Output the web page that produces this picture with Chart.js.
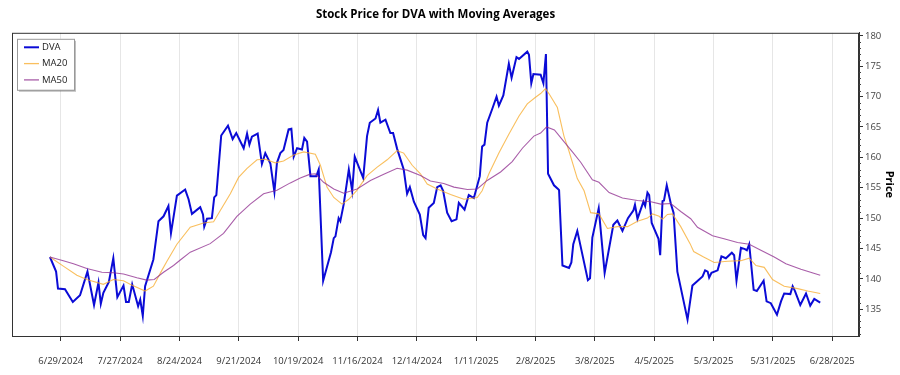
<!DOCTYPE html>
<html>
<head>
<meta charset="utf-8">
<script src="https://cdn.jsdelivr.net/npm/chart.js@4.4.1/dist/chart.umd.min.js"></script>
<style>
    html, body { margin: 0; padding: 0; background: #fff; }
</style>
</head>
<body>
<canvas id="stockChart" width="900" height="375"></canvas>
<script>
// x values are days counted from 6/29/2024 (first date tick)
const tickDays = [0, 28, 56, 84, 112, 140, 168, 196, 224, 252, 280, 308, 336, 364];
const tickLabels = ['6/29/2024', '7/27/2024', '8/24/2024', '9/21/2024', '10/19/2024', '11/16/2024',
    '12/14/2024', '1/11/2025', '2/8/2025', '3/8/2025', '4/5/2025', '5/3/2025', '5/31/2025', '6/28/2025'];
const priceTicks = [135, 140, 145, 150, 155, 160, 165, 170, 175, 180];

// DVA closing price
const dvaDays = [-5.1, -2.2, -1.3, 2.0, 5.7, 9.1, 12.6, 15.7, 17.8, 18.9,
    20.1, 22.7, 24.8, 26.7, 29.6, 30.8, 32.1, 33.7, 36.5, 37.5,
    38.7, 39.8, 43.7, 46.1, 48.5, 50.8, 52.0, 54.8, 58.7, 60.3,
    61.9, 65.8, 67.1, 67.7, 69.0, 71.3, 72.4, 73.4, 75.7, 78.9,
    81.1, 82.8, 86.3, 87.9, 89.0, 90.2, 92.9, 94.9, 96.5, 98.9,
    100.8, 102.0, 103.6, 105.1, 107.5, 108.8, 109.9, 111.5, 113.8, 114.9,
    116.2, 117.8, 120.6, 121.7, 123.8, 125.3, 127.5, 128.8, 129.6, 131.1,
    131.9, 133.5, 135.9, 137.5, 138.7, 142.7, 144.5, 145.8, 148.5, 149.7,
    150.8, 153.2, 155.5, 156.8, 158.7, 161.8, 163.4, 164.7, 166.6, 169.4,
    171.0, 172.1, 173.6, 176.0, 177.6, 179.2, 180.4, 182.3, 184.4, 186.7,
    187.8, 190.5, 192.5, 194.9, 197.7, 198.8, 199.9, 201.2, 203.6, 205.6,
    206.7, 208.8, 211.4, 212.7, 215.0, 216.2, 220.1, 220.9, 222.0, 223.0,
    226.4, 227.7, 228.9, 229.9, 232.7, 234.6, 235.1, 236.7, 239.8, 240.9,
    241.8, 243.7, 248.7, 249.7, 250.8, 253.8, 256.6, 260.7, 262.6, 265.0,
    267.6, 270.2, 270.9, 272.1, 274.9, 275.7, 276.8, 277.6, 278.8, 282.0,
    282.8, 283.9, 284.6, 285.9, 287.8, 289.1, 290.9, 295.7, 298.0, 299.6,
    302.8, 304.0, 305.2, 305.9, 307.0, 309.9, 311.7, 313.8, 316.6, 317.7,
    318.8, 320.9, 322.8, 323.7, 324.8, 326.9, 328.4, 331.6, 333.0, 335.0,
    337.9, 339.8, 341.3, 344.2, 345.3, 346.4, 348.9, 351.6, 353.6, 355.5,
    358.3];
const dvaPrices = [143.6, 141.2, 138.4, 138.3, 136.2, 137.3, 141.2, 135.7, 139.4, 135.9,
    137.7, 139.5, 143.4, 137.0, 138.9, 136.2, 136.2, 139.1, 135.5, 136.6,
    133.9, 138.8, 143.2, 149.5, 150.3, 152.0, 147.5, 153.7, 154.7, 153.1,
    150.7, 151.8, 150.6, 148.6, 149.9, 150.0, 153.4, 153.8, 163.6, 165.2,
    163.0, 164.0, 161.5, 163.9, 162.1, 163.4, 163.9, 158.9, 160.7, 159.0,
    154.3, 159.1, 160.7, 161.2, 164.6, 164.7, 160.1, 161.5, 161.3, 163.2,
    162.6, 156.9, 156.9, 158.0, 139.7, 141.6, 144.4, 146.7, 147.0, 150.0,
    149.5, 152.3, 158.0, 154.5, 160.1, 156.6, 163.5, 165.7, 166.4, 167.8,
    165.7, 166.2, 164.0, 164.0, 161.4, 158.0, 154.0, 155.1, 152.7, 150.6,
    147.2, 146.7, 151.7, 152.5, 155.1, 155.4, 154.5, 150.9, 149.5, 149.8,
    152.5, 151.4, 153.8, 153.3, 156.9, 161.8, 162.1, 165.7, 168.0, 170.0,
    168.5, 170.2, 175.4, 173.1, 176.5, 176.2, 177.4, 176.9, 172.2, 173.7,
    173.6, 172.2, 177.0, 157.3, 155.4, 154.8, 154.6, 142.2, 141.8, 142.7,
    145.7, 147.9, 139.8, 140.1, 146.8, 151.6, 141.0, 148.9, 149.6, 147.9,
    150.0, 151.3, 152.2, 149.9, 152.7, 152.0, 154.2, 153.8, 149.2, 146.6,
    143.9, 152.8, 152.9, 155.4, 152.4, 150.9, 141.2, 133.3, 138.9, 139.4,
    140.4, 141.4, 141.2, 140.2, 141.0, 141.4, 143.7, 143.4, 144.3, 143.9,
    139.7, 145.1, 144.9, 144.7, 145.7, 138.2, 138.0, 139.7, 136.3, 136.0,
    134.1, 136.3, 137.6, 137.5, 138.8, 138.0, 135.7, 137.6, 135.6, 136.7,
    136.1];

// 20 day moving average
const ma20Days = [-5.1, 1.2, 7.6, 12.3, 20.1, 24.8, 29.6, 32.7, 39.8, 43.7,
    47.7, 50.1, 54.8, 61.1, 67.4, 72.1, 75.2, 80.0, 83.9, 87.9,
    92.6, 96.5, 101.2, 105.1, 109.9, 114.6, 120.1, 122.5, 125.6, 128.8,
    132.7, 135.9, 139.8, 144.5, 149.3, 154.0, 158.7, 161.8, 165.8, 169.7,
    172.9, 177.6, 183.9, 190.2, 196.5, 198.8, 202.0, 206.7, 211.4, 216.2,
    220.1, 224.0, 226.4, 228.7, 230.3, 234.3, 237.4, 239.8, 243.7, 246.9,
    250.0, 253.9, 257.9, 262.6, 267.4, 272.1, 276.8, 279.2, 282.3, 283.9,
    286.2, 288.6, 292.5, 296.9, 298.6, 303.3, 308.3, 314.6, 320.9, 324.8,
    328.0, 331.9, 335.8, 341.3, 347.7, 352.4, 358.3];
const ma20Values = [143.6, 142.1, 140.6, 139.9, 139.1, 139.9, 139.7, 139.1, 138.0, 138.8,
    141.4, 142.9, 145.7, 148.5, 149.2, 149.4, 151.2, 154.0, 156.7, 158.2,
    159.6, 159.7, 159.1, 159.4, 160.4, 160.9, 160.5, 158.7, 155.1, 153.4,
    152.3, 153.1, 154.6, 157.0, 158.4, 159.6, 161.1, 160.7, 158.7, 157.3,
    155.6, 154.8, 153.9, 153.1, 153.4, 154.5, 157.3, 160.7, 163.8, 166.8,
    168.8, 169.9, 170.5, 171.3, 170.5, 168.2, 163.5, 161.0, 156.5, 154.5,
    150.9, 150.7, 148.3, 148.6, 148.6, 149.5, 150.0, 150.7, 150.3, 149.8,
    150.6, 150.7, 148.6, 145.8, 144.5, 143.6, 142.7, 142.9, 143.0, 143.4,
    142.2, 141.9, 139.9, 138.8, 138.4, 138.0, 137.6];

// 50 day moving average
const ma50Days = [-5.1, 1.2, 6.0, 12.3, 19.4, 24.8, 29.6, 35.9, 40.6, 44.1,
    48.5, 53.2, 56.4, 61.1, 70.5, 76.8, 83.1, 89.4, 95.7, 102.0,
    108.3, 113.0, 117.4, 120.1, 124.0, 128.8, 133.5, 139.8, 146.1, 152.4,
    158.7, 163.4, 169.7, 174.4, 180.7, 185.5, 191.8, 196.5, 201.2, 207.5,
    213.0, 217.8, 223.2, 226.4, 229.2, 232.9, 237.4, 241.4, 245.3, 250.8,
    253.9, 258.7, 265.0, 272.1, 278.4, 283.1, 287.8, 292.5, 297.2, 300.4,
    307.5, 312.9, 319.3, 324.8, 330.3, 336.6, 342.1, 349.2, 358.3];
const ma50Values = [143.6, 143.0, 142.5, 141.7, 141.1, 141.0, 140.8, 140.2, 139.8, 139.9,
    141.1, 142.2, 143.1, 144.4, 145.8, 147.5, 150.3, 152.3, 154.0, 154.6,
    155.8, 156.6, 157.2, 157.3, 155.9, 154.8, 154.1, 154.8, 156.2, 157.2,
    158.2, 157.9, 157.0, 156.1, 155.7, 155.1, 154.7, 154.8, 156.2, 157.6,
    159.3, 161.5, 163.5, 164.0, 165.0, 164.5, 162.6, 160.9, 159.2, 156.3,
    155.9, 154.2, 153.3, 152.9, 152.7, 152.3, 152.4, 151.1, 149.9, 148.5,
    147.1, 146.6, 146.0, 145.7, 144.7, 143.6, 142.5, 141.6, 140.6];

const FONT = "'Open Sans', 'DejaVu Sans', sans-serif";

function toPoints(days, vals) {
    return days.map((d, i) => ({ x: d, y: vals[i] }));
}

// marco del grafico
const framePlugin = {
    id: 'frame',
    afterDatasetsDraw(chart) {
        const a = chart.chartArea, ctx = chart.ctx;
        ctx.save();
        ctx.strokeStyle = '#333';
        ctx.lineWidth = 1;
        ctx.strokeRect(a.left + 0.5, a.top + 0.5, a.right - a.left - 1, a.bottom - a.top);
        ctx.restore();
    }
};

// pequeñas marcas en el eje de precios
const minorTicksPlugin = {
    id: 'minorTicks',
    afterDraw(chart) {
        const y = chart.scales.y, ctx = chart.ctx;
        ctx.save();
        ctx.strokeStyle = '#444';
        ctx.lineWidth = 1;
        for (let v = 131; v <= 180; v++) {
            if (v % 5 === 0) continue;
            const py = Math.round(y.getPixelForValue(v)) + 0.5;
            ctx.beginPath();
            ctx.moveTo(y.left, py);
            ctx.lineTo(y.left + 2, py);
            ctx.stroke();
        }
        ctx.restore();
    }
};

// leyenda dentro del area del grafico
const boxLegendPlugin = {
    id: 'boxLegend',
    afterDraw(chart) {
        const a = chart.chartArea, ctx = chart.ctx;
        const bx = a.left + 5, by = a.top + 6, bw = 57, bh = 51;
        ctx.save();
        ctx.fillStyle = 'rgba(0,0,0,0.25)';
        ctx.fillRect(bx + 2, by + 2, bw, bh);
        ctx.fillStyle = '#fff';
        ctx.fillRect(bx, by, bw, bh);
        ctx.strokeStyle = '#999';
        ctx.lineWidth = 1;
        ctx.strokeRect(bx + 0.5, by + 0.5, bw, bh);
        ctx.font = '9.5px ' + FONT;
        ctx.textBaseline = 'middle';
        chart.data.datasets.forEach((ds, i) => {
            const ly = by + 8.5 + i * 16.3;
            ctx.strokeStyle = ds.borderColor;
            ctx.lineWidth = i === 0 ? 2 : 1.3;
            ctx.beginPath();
            ctx.moveTo(bx + 7, ly);
            ctx.lineTo(bx + 22, ly);
            ctx.stroke();
            ctx.fillStyle = '#222';
            ctx.fillText(ds.label, bx + 25, ly);
        });
        ctx.restore();
    }
};

const ctx = document.getElementById('stockChart').getContext('2d');
new Chart(ctx, {
    type: 'line',
    data: {
        datasets: [
            {
                label: 'DVA',
                data: toPoints(dvaDays, dvaPrices),
                borderColor: '#0b0bd6',
                borderWidth: 2,
                pointRadius: 0,
                tension: 0,
                order: 3
            },
            {
                label: 'MA20',
                data: toPoints(ma20Days, ma20Values),
                borderColor: 'rgba(247, 170, 40, 0.75)',
                borderWidth: 1.1,
                pointRadius: 0,
                tension: 0,
                order: 2
            },
            {
                label: 'MA50',
                data: toPoints(ma50Days, ma50Values),
                borderColor: 'rgba(140, 40, 140, 0.75)',
                borderWidth: 1.1,
                pointRadius: 0,
                tension: 0,
                order: 1
            }
        ]
    },
    options: {
        responsive: false,
        animation: false,
        layout: { padding: { left: 12, right: 0, top: 0, bottom: 0 } },
        scales: {
            x: {
                type: 'linear',
                min: -23,
                max: 376.6,
                afterBuildTicks: (scale) => { scale.ticks = tickDays.map(v => ({ value: v })); },
                afterFit: (scale) => { scale.height = 39; },
                grid: { color: '#e6e6e6', tickColor: '#333', tickLength: 5 },
                border: { display: true, color: '#333' },
                ticks: {
                    autoSkip: false,
                    maxRotation: 0,
                    padding: 15,
                    color: '#333',
                    font: { family: FONT, size: 9.5 },
                    callback: (v) => tickLabels[tickDays.indexOf(v)]
                }
            },
            y: {
                position: 'right',
                min: 130.6,
                max: 180.5,
                afterBuildTicks: (scale) => { scale.ticks = priceTicks.map(v => ({ value: v })); },
                afterFit: (scale) => { scale.width = 41; },
                grid: { drawOnChartArea: false, tickColor: '#333', tickLength: 4 },
                border: { display: true, color: '#333' },
                ticks: {
                    padding: 2,
                    color: '#444',
                    font: { family: FONT, size: 9.5 }
                },
                title: {
                    display: true,
                    text: 'Price',
                    color: '#000',
                    font: { family: FONT, size: 11, weight: 'bold' },
                    padding: { top: 4, bottom: 0 }
                }
            }
        },
        plugins: {
            legend: { display: false },
            tooltip: { enabled: false },
            title: {
                display: true,
                fullSize: false,
                text: 'Stock Price for DVA with Moving Averages',
                color: '#000',
                font: { family: FONT, size: 11.5, weight: 'bold' },
                padding: { top: 8, bottom: 11 }
            }
        }
    },
    plugins: [framePlugin, minorTicksPlugin, boxLegendPlugin]
});
</script>
</body>
</html>
